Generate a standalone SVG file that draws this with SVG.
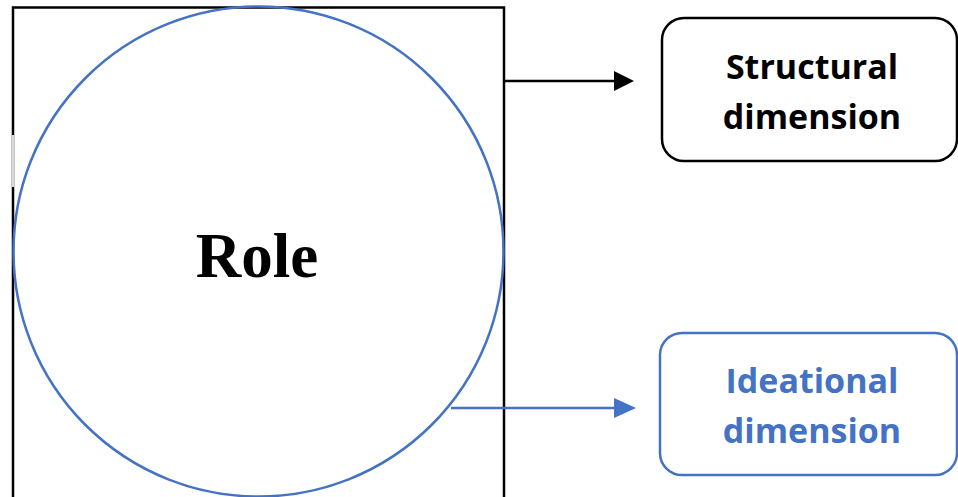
<svg xmlns="http://www.w3.org/2000/svg" width="958" height="497" viewBox="0 0 958 497">
  <defs>
    <style>
      .frame { fill: none; stroke: #000; stroke-width: 2.5; }
      .ring { fill: none; stroke: #4472c4; stroke-width: 2.5; }
      .box-dark { fill: #fff; stroke: #000; stroke-width: 2.5; }
      .box-blue { fill: #fff; stroke: #4472c4; stroke-width: 2.5; }
      .label { font-family: "Open Sans", "Liberation Sans", sans-serif; font-weight: bold; font-size: 34px; text-anchor: middle; }
      .role { font-family: "Liberation Serif", serif; font-weight: bold; font-size: 63px; text-anchor: middle; fill: #000; }
      .link-dark { stroke: #000; stroke-width: 2.5; fill: none; }
      .link-blue { stroke: #4472c4; stroke-width: 2.5; fill: none; }
    </style>
  </defs>

  <rect width="958" height="497" fill="#fff"/>

  <!-- role frame and circle -->
  <g id="role">
    <path class="frame" d="M13,500 V7.5 H504 V500"/>
    <line x1="13" y1="135" x2="13" y2="187" stroke="#d9d9d9" stroke-width="2.5"/>
    <circle class="ring" cx="258.5" cy="251.5" r="245"/>
    <text class="role" x="257" y="277">Role</text>
  </g>

  <!-- connectors -->
  <g id="connectors">
    <line class="link-dark" x1="504" y1="81" x2="616" y2="81"/>
    <polygon points="614,71 634,81 614,91" fill="#000"/>
    <line class="link-blue" x1="451" y1="408" x2="616" y2="408"/>
    <polygon points="614,398 636,408 614,418" fill="#4472c4"/>
  </g>

  <g id="structural">
    <rect class="box-dark" x="662" y="18" width="295" height="143" rx="22"/>
    <text class="label" x="812" y="79" fill="#000">Structural</text>
    <text class="label" x="812" y="129" fill="#000">dimension</text>
  </g>

  <g id="ideational">
    <rect class="box-blue" x="660" y="333" width="297" height="142" rx="22"/>
    <text class="label" x="812" y="393" fill="#4472c4">Ideational</text>
    <text class="label" x="812" y="443" fill="#4472c4">dimension</text>
  </g>
</svg>
